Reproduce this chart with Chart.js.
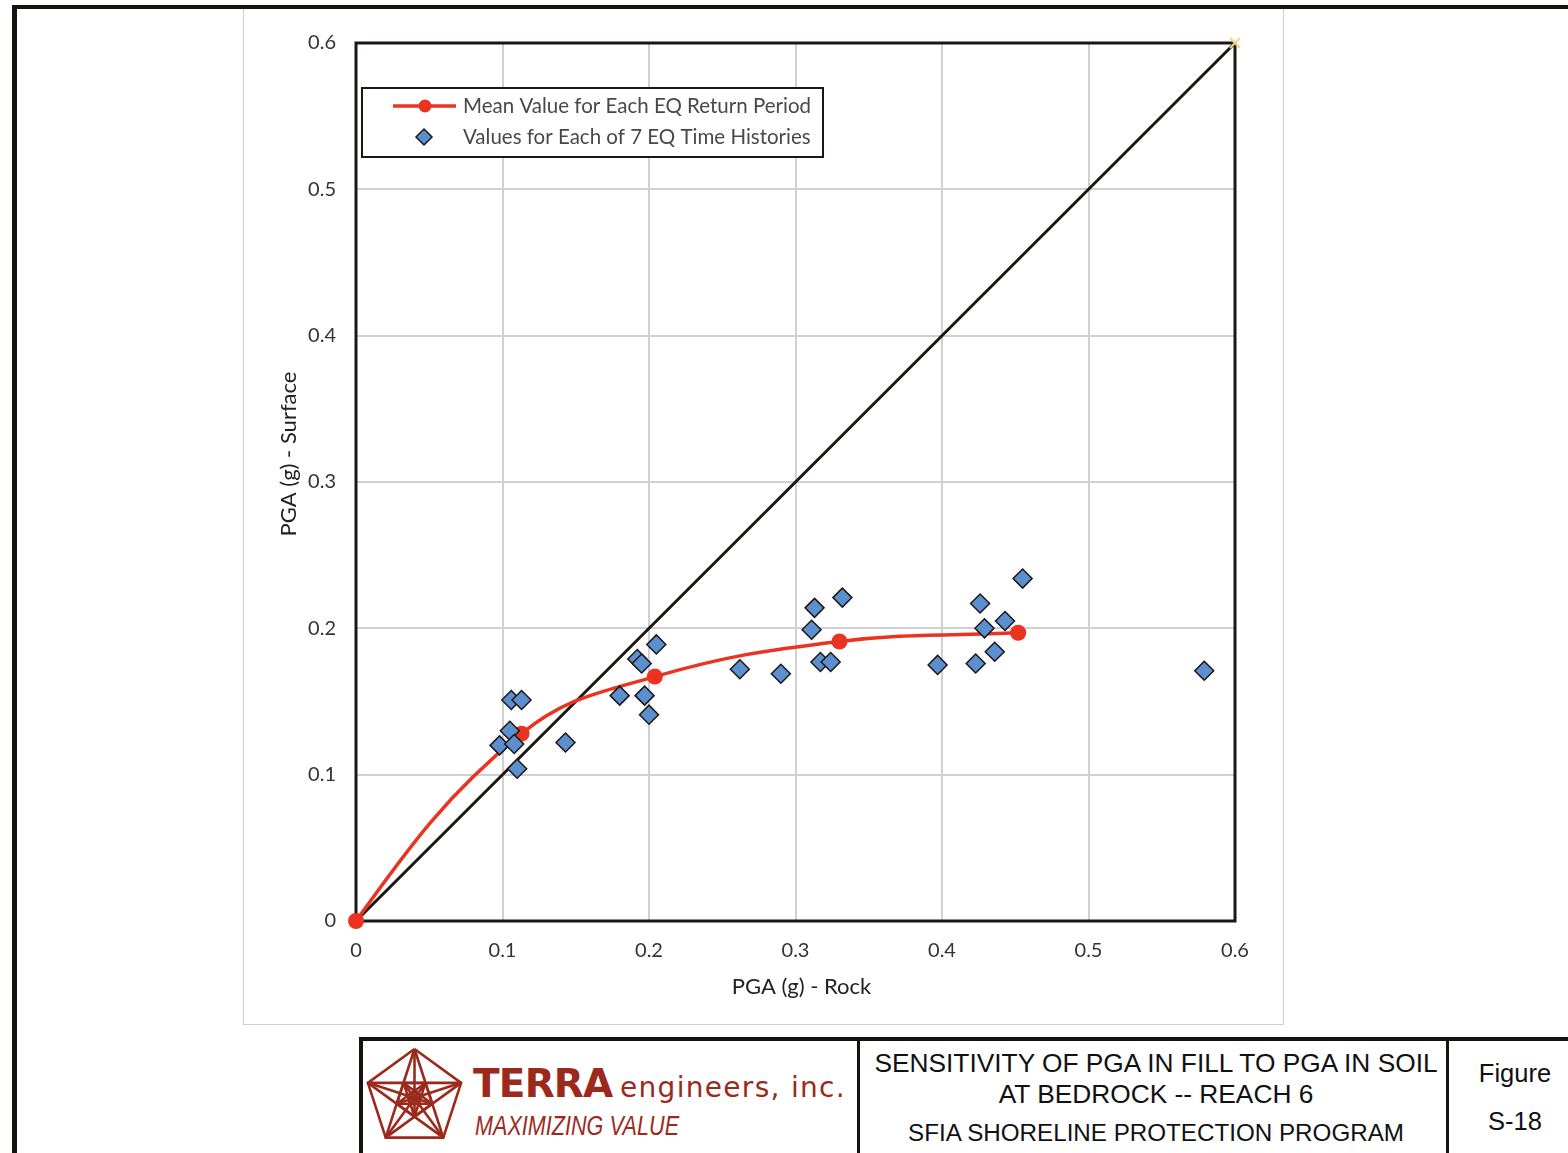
<!DOCTYPE html>
<html>
<head>
<meta charset="utf-8">
<script src="https://cdn.jsdelivr.net/npm/chart.js@4/dist/chart.umd.min.js"></script>
<style>
  html, body { margin: 0; padding: 0; background: #fff; }
  body { width: 1568px; height: 1153px; position: relative; overflow: hidden; font-family: "Liberation Sans", Arial, sans-serif; }
  #frameTop { position: absolute; left: 12px; top: 5px; width: 1556px; height: 4px; background: #151210; }
  #frameLeft { position: absolute; left: 12px; top: 5px; width: 5px; height: 1148px; background: #151210; }
  #panel { position: absolute; left: 243px; top: 9px; width: 1039px; height: 1015px; border-left: 1.5px solid #cfcfcf; border-right: 1.5px solid #cfcfcf; border-bottom: 1.5px solid #cfcfcf; }
  #chartBox { position: absolute; left: 244px; top: 9px; width: 1038px; height: 1015px; }
  #block { position: absolute; left: 359px; top: 1037px; width: 1220px; height: 130px; border-top: 4px solid #151210; border-left: 4px solid #151210; }
  .div1 { position: absolute; left: 494px; top: 0; width: 3px; height: 130px; background: #151210; }
  .div2 { position: absolute; left: 1083px; top: 0; width: 3px; height: 130px; background: #151210; }
  .logoText { position: absolute; color: #9c2a1c; white-space: nowrap; }
  .title { position: absolute; color: #111; font-family: "Liberation Sans", Arial, sans-serif; white-space: nowrap; text-align: center; }
</style>
</head>
<body>
<div id="frameTop"></div>
<div id="frameLeft"></div>
<div id="panel"></div>
<div id="chartBox"><canvas id="c" width="1038" height="1015"></canvas></div>

<div id="block">
  <svg style="position:absolute;left:0px;top:4px" width="104" height="100" viewBox="0 0 104 100">
    <g id="logo" fill="none" stroke="#9c2a1c" stroke-width="2.6" stroke-linejoin="round"></g>
  </svg>
  <div class="logoText" style="left:110px;top:20px;font-family:'DejaVu Sans',Arial,sans-serif;font-weight:900;font-size:39px;letter-spacing:-0.8px;">TERRA</div>
  <div class="logoText" style="left:257px;top:30px;font-family:'DejaVu Sans',sans-serif;font-size:28px;letter-spacing:1.3px;">engineers, inc.</div>
  <div class="logoText" style="left:112px;top:70px;font-family:'Liberation Sans',sans-serif;font-style:italic;font-size:27px;transform:scaleX(0.8);transform-origin:left center;">MAXIMIZING VALUE</div>
  <div class="div1"></div>
  <div class="div2"></div>
  <div class="title" style="left:500px;width:586px;top:7px;font-size:26.3px;">SENSITIVITY OF PGA IN FILL TO PGA IN SOIL</div>
  <div class="title" style="left:500px;width:586px;top:38px;font-size:26.3px;">AT BEDROCK -- REACH 6</div>
  <div class="title" style="left:500px;width:586px;top:78px;font-size:24.2px;">SFIA SHORELINE PROTECTION PROGRAM</div>
  <div class="title" style="left:1086px;width:132px;top:18px;font-size:25.5px;">Figure</div>
  <div class="title" style="left:1086px;width:132px;top:66px;font-size:25.5px;">S-18</div>
</div>

<script>
// PGA at rock vs. PGA at the surface, seven time histories per return period
const rockPGA = [
  0.106, 0.113, 0.105, 0.098, 0.108, 0.110, 0.143,
  0.180, 0.192, 0.195, 0.205, 0.197, 0.200, 0.262,
  0.290, 0.313, 0.311, 0.332, 0.317, 0.324, 0.397,
  0.426, 0.429, 0.443, 0.423, 0.436, 0.455, 0.579
];
const surfacePGA = [
  0.151, 0.151, 0.130, 0.120, 0.121, 0.104, 0.122,
  0.154, 0.179, 0.176, 0.189, 0.154, 0.141, 0.172,
  0.169, 0.214, 0.199, 0.221, 0.177, 0.177, 0.175,
  0.217, 0.200, 0.205, 0.176, 0.184, 0.234, 0.171
];
// mean of each return period (with the origin)
const meanRock = [0, 0.113, 0.204, 0.330, 0.452];
const meanSurface = [0, 0.128, 0.167, 0.191, 0.197];
// 1:1 reference line
const unityLine = [0, 0.6];
const axisTicks = [0, 0.1, 0.2, 0.3, 0.4, 0.5, 0.6];

const legendLabels = ['Mean Value for Each EQ Return Period', 'Values for Each of 7 EQ Time Histories'];
const xTitle = 'PGA (g) - Rock';
const yTitle = 'PGA (g) - Surface';

const RED = '#eb3322';
const BLUE = '#5b8fcf';
const DARK = '#1c1714';
const FONT = 'Lato, "Open Sans", sans-serif';

const pts = (xs, ys) => xs.map((x, i) => ({ x, y: ys[i] }));

// logo: pentagon with inscribed stars
(function () {
  const g = document.getElementById('logo');
  const cx = 51.5, cy = 53, R = 49;
  const P = (r, k, off) => {
    const a = (-90 + off + 72 * k) * Math.PI / 180;
    return [cx + r * Math.cos(a), cy + r * Math.sin(a)];
  };
  const poly = (arr, close) => {
    const el = document.createElementNS('http://www.w3.org/2000/svg', 'polyline');
    const list = close ? arr.concat([arr[0]]) : arr;
    el.setAttribute('points', list.map(p => p.join(',')).join(' '));
    g.appendChild(el);
  };
  const outer = [0, 1, 2, 3, 4].map(k => P(R, k, 0));
  poly(outer, true);
  poly([0, 2, 4, 1, 3].map(k => outer[k]), true);
  const mid = [0, 1, 2, 3, 4].map(k => P(R * 0.38, k, 36));
  poly(mid, true);
  poly([0, 2, 4, 1, 3].map(k => mid[k]), true);
  const inner = [0, 1, 2, 3, 4].map(k => P(R * 0.15, k, 0));
  poly(inner, true);
  for (let k = 0; k < 5; k++) poly([outer[k], P(R * 0.38, k + 2, 36)], false);
})();

const framePlugin = {
  id: 'frameAndLegend',
  beforeDatasetsDraw(chart) {
    const { ctx, chartArea: a } = chart;
    ctx.save();
    ctx.strokeStyle = DARK;
    ctx.lineWidth = 3;
    ctx.strokeRect(a.left, a.top, a.right - a.left, a.bottom - a.top);
    ctx.restore();
  },
  beforeDatasetDraw(chart, args) {
    // start the smoothed mean curve with a tangent aimed at the next handle,
    // so the first span bows like a spreadsheet-style smoothed line
    if (args.index !== 1) return;
    const line = args.meta.dataset;
    line.updateControlPoints(chart.chartArea, 'x');
    const p = line.points;
    if (p.length > 1) {
      p[0].cp2x = p[0].x + 0.6 * (p[1].cp1x - p[0].x);
      p[0].cp2y = p[0].y + 0.6 * (p[1].cp1y - p[0].y);
    }
  },
  afterDatasetsDraw(chart) {
    const { ctx, chartArea: a } = chart;
    ctx.save();

    // legend box
    const lx = a.left + 6, ly = a.top + 45, lw = 461, lh = 69;
    ctx.fillStyle = '#fff';
    ctx.fillRect(lx, ly, lw, lh);
    ctx.lineWidth = 2;
    ctx.strokeStyle = DARK;
    ctx.strokeRect(lx, ly, lw, lh);

    // mean series sample
    const y1 = ly + 18, y2 = ly + 49;
    ctx.strokeStyle = RED;
    ctx.lineWidth = 3.5;
    ctx.beginPath();
    ctx.moveTo(lx + 31, y1);
    ctx.lineTo(lx + 94, y1);
    ctx.stroke();
    ctx.fillStyle = RED;
    ctx.beginPath();
    ctx.arc(lx + 63, y1, 6.5, 0, Math.PI * 2);
    ctx.fill();

    // diamond sample
    ctx.fillStyle = BLUE;
    ctx.strokeStyle = DARK;
    ctx.lineWidth = 1.5;
    ctx.beginPath();
    const dx = lx + 62, r = 8;
    ctx.moveTo(dx, y2 - r); ctx.lineTo(dx + r, y2); ctx.lineTo(dx, y2 + r); ctx.lineTo(dx - r, y2); ctx.closePath();
    ctx.fill(); ctx.stroke();

    ctx.fillStyle = '#484848';
    ctx.font = '20.5px ' + FONT;
    ctx.textBaseline = 'middle';
    ctx.textAlign = 'left';
    ctx.fillText(legendLabels[0], lx + 101, y1);
    ctx.fillText(legendLabels[1], lx + 101, y2);

    // axis titles
    ctx.fillStyle = '#222';
    ctx.font = '22px ' + FONT;
    ctx.textAlign = 'center';
    ctx.fillText(xTitle, (a.left + a.right) / 2 + 6, a.bottom + 66);
    ctx.translate(a.left - 67, a.top + 411);
    ctx.rotate(-Math.PI / 2);
    ctx.fillText(yTitle, 0, 0);
    ctx.restore();
  }
};

new Chart(document.getElementById('c'), {
  type: 'scatter',
  data: {
    datasets: [
      {
        label: legendLabels[1],
        data: pts(rockPGA, surfacePGA),
        pointStyle: 'rectRot',
        pointRadius: 9.5,
        pointBackgroundColor: BLUE,
        pointBorderColor: DARK,
        pointBorderWidth: 1.5,
        showLine: false
      },
      {
        label: legendLabels[0],
        data: pts(meanRock, meanSurface),
        showLine: true,
        tension: 0.4,
        clip: false,
        borderColor: RED,
        borderWidth: 3.5,
        pointRadius: 8,
        pointBackgroundColor: RED,
        pointBorderColor: RED,
        pointBorderWidth: 0
      },
      {
        label: '1:1',
        data: pts(unityLine, unityLine),
        showLine: true,
        clip: false,
        borderColor: DARK,
        borderWidth: 3,
        pointRadius: [0, 7],
        pointStyle: 'crossRot',
        pointBorderColor: '#f6d58a',
        pointBorderWidth: 2,
        tension: 0
      }
    ]
  },
  options: {
    responsive: false,
    animation: false,
    layout: { padding: { top: 34, right: 47, left: 0, bottom: 0 } },
    plugins: { legend: { display: false }, tooltip: { enabled: false } },
    scales: {
      x: {
        type: 'linear',
        min: 0, max: 0.6,
        afterFit(s) { s.height = 103; },
        afterBuildTicks(s) { s.ticks = axisTicks.map(v => ({ value: v })); },
        grid: { color: '#d0d0d0', lineWidth: 2, drawTicks: false },
        border: { display: false },
        ticks: {
          padding: 18,
          color: '#333',
          font: { family: FONT, size: 20 },
          callback: v => String(+v.toFixed(1))
        }
      },
      y: {
        type: 'linear',
        min: 0, max: 0.6,
        afterFit(s) { s.width = 112; },
        afterBuildTicks(s) { s.ticks = axisTicks.map(v => ({ value: v })); },
        grid: { color: '#d0d0d0', lineWidth: 2, drawTicks: false },
        border: { display: false },
        ticks: {
          padding: 20,
          color: '#333',
          font: { family: FONT, size: 20 },
          callback: v => String(+v.toFixed(1))
        }
      }
    }
  },
  plugins: [framePlugin]
});
</script>
</body>
</html>
